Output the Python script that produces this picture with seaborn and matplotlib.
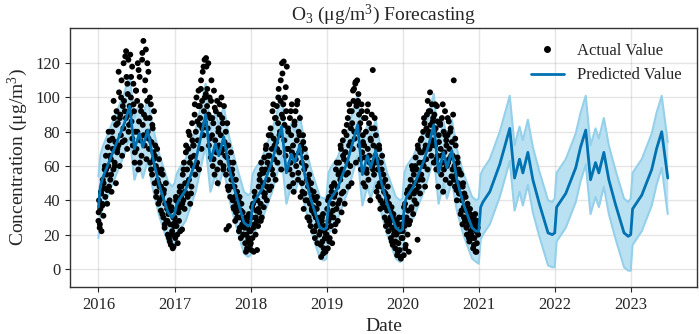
import matplotlib
matplotlib.use("Agg")
import matplotlib.pyplot as plt
import matplotlib.dates as mdates
from matplotlib.lines import Line2D
import pandas as pd
import seaborn as sns

# ---------------- data ----------------
actual_years = [2016, 2017, 2018, 2019, 2020]
# observed O3 values, one every third day from 1 January of each year
actual_2016 = [28, 40, 24, 35, 45, 22, 38, 52, 31, 47, 58,
               42, 66, 55, 38, 71, 60, 48, 75, 52,
               64, 45, 80, 70, 58, 88, 62, 74, 50, 92, 68,
               85, 72, 103, 60, 90, 78, 110, 66, 95, 82,
               98, 75, 124, 88, 112, 70, 102, 122, 84, 95,
               125, 100, 86, 118, 72, 108, 92, 62, 80, 104,
               70, 98, 120, 58, 86, 112, 75, 95, 66, 122, 84,
               133, 90, 72, 110, 128, 64, 98, 80, 115, 70,
               88, 62, 96, 74, 55, 82, 68, 92, 50, 72,
               60, 45, 70, 52, 38, 64, 48, 56, 34, 58,
               42, 55, 30, 46, 24, 38, 50, 28, 35, 20,
               32, 18, 40, 26, 14, 36, 22, 12, 30, 25]
actual_2017 = [30, 18, 42, 25, 35, 15, 38, 28, 45, 22, 36,
               48, 23, 55, 40, 62, 35, 50, 68, 44,
               58, 42, 70, 52, 78, 38, 65, 48, 85, 60, 72,
               66, 90, 55, 80, 100, 62, 75, 95, 58, 84,
               88, 105, 70, 98, 115, 78, 92, 122, 85, 102,
               118, 95, 82, 120, 72, 100, 88, 65, 110, 78,
               60, 85, 104, 55, 75, 92, 68, 98, 50, 80, 72,
               90, 62, 78, 100, 70, 85, 58, 95, 74, 66,
               80, 23, 65, 48, 72, 25, 58, 42, 68, 52,
               55, 40, 62, 35, 48, 28, 52, 38, 45, 30,
               36, 22, 42, 30, 18, 38, 25, 33, 20, 28,
               24, 15, 30, 20, 12, 27, 18, 32, 22, 14]
actual_2018 = [22, 11, 30, 18, 38, 10, 26, 42, 20, 34, 28,
               40, 25, 48, 33, 55, 38, 62, 30, 45,
               50, 36, 65, 44, 58, 72, 40, 62, 52, 78, 46,
               60, 82, 48, 70, 92, 55, 76, 64, 88, 52,
               74, 95, 62, 85, 105, 68, 80, 98, 58, 90,
               114, 88, 121, 75, 100, 66, 92, 118, 58, 82,
               70, 48, 88, 62, 78, 96, 55, 72, 45, 84, 66,
               92, 60, 75, 98, 52, 80, 68, 88, 42, 72,
               62, 45, 78, 35, 58, 70, 40, 65, 52, 30,
               48, 30, 55, 38, 25, 50, 35, 42, 22, 45,
               32, 18, 40, 25, 35, 15, 28, 38, 20, 30,
               22, 7, 28, 16, 32, 12, 25, 18, 10, 20]
actual_2019 = [20, 35, 12, 28, 42, 18, 32, 25, 45, 15, 38,
               30, 50, 22, 44, 58, 35, 48, 28, 55,
               62, 40, 52, 70, 33, 58, 75, 45, 64, 38, 68,
               55, 78, 62, 88, 48, 72, 92, 60, 82, 50,
               85, 70, 98, 105, 76, 108, 62, 95, 110, 80,
               102, 90, 72, 85, 58, 96, 68, 78, 50, 88,
               65, 48, 80, 58, 92, 70, 52, 85, 62, 40, 75,
               82, 60, 116, 72, 55, 88, 66, 78, 45, 70,
               58, 42, 72, 50, 35, 62, 48, 66, 38, 55,
               45, 30, 52, 25, 40, 34, 48, 22, 38, 28,
               30, 18, 36, 24, 14, 32, 20, 28, 12, 25,
               20, 8, 26, 15, 30, 11, 22, 6, 18, 24]
actual_2020 = [18, 30, 8, 25, 38, 14, 28, 44, 20, 34, 10,
               42, 28, 52, 35, 60, 45, 32, 55, 40,
               50, 65, 38, 58, 17, 70, 48, 62, 44, 75, 55,
               68, 52, 80, 60, 85, 48, 72, 64, 90, 58,
               78, 92, 70, 103, 84, 66, 96, 75, 88, 62,
               90, 72, 82, 58, 95, 66, 48, 78, 60, 85,
               70, 55, 88, 62, 45, 80, 68, 92, 52, 75, 60,
               78, 62, 86, 70, 50, 82, 66, 74, 58, 90,
               110, 60, 48, 72, 55, 40, 65, 50, 58, 44,
               48, 32, 55, 40, 26, 50, 36, 44, 28, 42,
               34, 20, 38, 26, 30, 16, 35, 22, 28, 18,
               24, 12, 30, 18, 26, 10, 22, 15, 28, 20]
# further observed values, one every sixth day from 2 January of each year
extra_2016 = [33, 26, 44, 37, 50, 60,
              58, 46, 80, 66,
              55, 76, 98, 60, 84,
              70, 115, 88, 100, 74,
              120, 92, 127, 108, 80,
              90, 112, 76, 96, 68,
              104, 80, 116, 62, 92,
              126, 78, 104, 88, 120,
              76, 100, 58, 84, 64,
              66, 42, 58, 50, 40,
              48, 32, 44, 26, 38,
              28, 38, 16, 34, 20, 13]
extra_2017 = [27, 40, 20, 33, 48, 42,
              38, 58, 45, 72,
              50, 80, 62, 44, 75,
              72, 96, 60, 86, 104,
              95, 110, 82, 118, 100,
              123, 105, 90, 76, 98,
              88, 64, 94, 70, 58,
              82, 96, 68, 88, 60,
              70, 55, 85, 46, 62,
              48, 58, 36, 42, 33,
              30, 40, 24, 34, 26,
              20, 28, 10, 24, 17, 30]
extra_2018 = [15, 36, 24, 45, 30, 11,
              35, 52, 28, 58,
              56, 42, 70, 48, 66,
              66, 78, 58, 96, 72,
              88, 70, 100, 78, 110,
              120, 96, 84, 106, 70,
              80, 58, 92, 68, 50,
              86, 64, 96, 56, 78,
              68, 50, 74, 44, 60,
              40, 52, 28, 46, 34,
              36, 22, 30, 42, 26,
              26, 14, 30, 9, 22, 18]
extra_2019 = [24, 40, 16, 30, 48, 34,
              42, 26, 62, 38,
              56, 72, 44, 66, 80,
              68, 84, 56, 96, 74,
              92, 104, 80, 109, 96,
              98, 82, 64, 92, 74,
              72, 88, 56, 96, 66,
              76, 90, 58, 82, 62,
              64, 48, 70, 40, 58,
              50, 36, 44, 28, 42,
              26, 34, 16, 30, 22,
              16, 28, 10, 22, 7, 26]
extra_2020 = [22, 36, 12, 30, 46, 26,
              48, 36, 58, 44,
              60, 46, 72, 52, 68,
              76, 62, 88, 70, 82,
              98, 80, 92, 72, 86,
              80, 96, 64, 86, 74,
              84, 66, 96, 58, 78,
              72, 88, 64, 80, 54,
              66, 52, 76, 46, 62,
              44, 56, 34, 48, 30,
              30, 24, 36, 18, 32,
              20, 28, 14, 32, 10, 24]

# forecast: knot dates (month-day) inside each year
pred_years = [2016, 2017, 2018, 2019, 2020, 2021, 2022, 2023]
knot_days = ["01-01", "01-10", "01-21", "02-23", "04-12", "05-05", "05-30",
             "06-22", "07-16", "08-01", "08-25", "09-18", "10-19", "11-30", "12-20"]
knot_days_2023 = ["01-01", "01-10", "01-21", "02-23", "04-12", "05-05", "05-30", "06-28"]

pred_mid = [36, 48, 53, 63, 78, 85, 95, 70, 79, 71, 81, 65, 49, 33, 30,
            32, 37, 40, 46, 63, 76, 90, 63, 73, 66, 77, 60, 45, 27, 25,
            26, 37, 40, 46, 62, 72, 83, 56, 67, 62, 72, 55, 40, 24, 23,
            24, 38, 41, 47, 63, 73, 84, 55, 66, 59, 69, 52, 38, 24, 22,
            23, 38, 42, 48, 63, 72, 84, 56, 68, 59, 69, 52, 38, 24, 22,
            22, 36, 39, 45, 61, 71, 82, 53, 64, 56, 68, 52, 38, 21, 20,
            21, 36, 38, 44, 59, 71, 81, 52, 62, 56, 68, 52, 38, 21, 19,
            20, 35, 37, 43, 58, 70, 80, 53]
pred_low = [18, 30, 35, 45, 60, 67, 77, 52, 61, 53, 63, 47, 31, 15, 12,
            14, 19, 22, 28, 45, 58, 72, 45, 55, 48, 59, 42, 27, 9, 7,
            8, 19, 22, 28, 44, 54, 65, 38, 49, 44, 54, 37, 22, 6, 5,
            6, 20, 23, 29, 45, 55, 66, 37, 48, 41, 51, 34, 20, 6, 4,
            5, 20, 24, 30, 45, 54, 66, 38, 50, 41, 51, 34, 20, 6, 4,
            3, 17, 20, 26, 42, 52, 63, 34, 45, 37, 49, 33, 19, 2, 1,
            1, 16, 18, 24, 39, 51, 61, 32, 42, 36, 48, 32, 18, 1, -1,
            -1, 14, 16, 22, 37, 49, 59, 32]
pred_high = [54, 66, 71, 81, 96, 103, 113, 88, 97, 89, 99, 83, 67, 51, 48,
             50, 55, 58, 64, 81, 94, 108, 81, 91, 84, 95, 78, 63, 45, 43,
             44, 55, 58, 64, 80, 90, 101, 74, 85, 80, 90, 73, 58, 42, 41,
             42, 56, 59, 65, 81, 91, 102, 73, 84, 77, 87, 70, 56, 42, 40,
             41, 56, 60, 66, 81, 90, 102, 74, 86, 77, 87, 70, 56, 42, 40,
             41, 55, 58, 64, 80, 90, 101, 72, 83, 75, 87, 71, 57, 40, 39,
             41, 56, 58, 64, 79, 91, 101, 72, 82, 76, 88, 72, 58, 41, 39,
             41, 56, 58, 64, 79, 91, 101, 74]

y_ticks = [0, 20, 40, 60, 80, 100, 120]

# ---------------- tables ----------------
frames = []
main_lists = [actual_2016, actual_2017, actual_2018, actual_2019, actual_2020]
extra_lists = [extra_2016, extra_2017, extra_2018, extra_2019, extra_2020]
for yr, vals, ext in zip(actual_years, main_lists, extra_lists):
    frames.append(pd.DataFrame({
        "ds": pd.date_range(f"{yr}-01-01", periods=len(vals), freq="3D"),
        "y": vals}))
    frames.append(pd.DataFrame({
        "ds": pd.date_range(f"{yr}-01-02", periods=len(ext), freq="6D"),
        "y": ext}))
actual_df = pd.concat(frames, ignore_index=True).sort_values("ds")

pred_dates = []
for yr in pred_years:
    days = knot_days_2023 if yr == 2023 else knot_days
    pred_dates += [pd.Timestamp(f"{yr}-{d}") for d in days]
pred_df = pd.DataFrame({"ds": pred_dates, "yhat": pred_mid,
                        "lo": pred_low, "hi": pred_high})

# ---------------- plot ----------------
sns.set_style("ticks")
plt.rcParams["font.family"] = ["Liberation Serif", "DejaVu Serif"]
plt.rcParams["mathtext.fontset"] = "custom"
plt.rcParams["mathtext.rm"] = "Liberation Serif"
plt.rcParams["mathtext.it"] = "Liberation Serif:italic"

fig = plt.figure(figsize=(6.99, 3.34), dpi=100)
ax = fig.add_axes([0.100, 0.141, 0.897, 0.775])

band_fill = "#bae1f2"
band_edge = "#95d0ea"
line_col = "#0072B2"

ax.fill_between(pred_df["ds"], pred_df["lo"], pred_df["hi"],
                color=band_fill, lw=0, zorder=1)
ax.plot(pred_df["ds"], pred_df["lo"], color=band_edge, lw=1.5, zorder=1.2)
ax.plot(pred_df["ds"], pred_df["hi"], color=band_edge, lw=1.5, zorder=1.2)

sns.scatterplot(data=actual_df, x="ds", y="y", color="black", s=18,
                edgecolor="none", ax=ax, zorder=3, legend=False)
sns.lineplot(data=pred_df, x="ds", y="yhat", color=line_col, lw=2,
             ax=ax, zorder=4, legend=False, estimator=None)

ax.grid(True, which="major", color="gray", ls="-", lw=1, alpha=0.2)

ax.set_xlim(pd.Timestamp("2015-08-17"), pd.Timestamp("2023-11-15"))
ax.set_ylim(-10.5, 140.5)
ax.set_yticks(y_ticks)
ax.xaxis.set_major_locator(mdates.YearLocator())
ax.xaxis.set_major_formatter(mdates.DateFormatter("%Y"))
ax.tick_params(labelsize=12, length=3.5)
for s in ax.spines.values():
    s.set_color("#333333")
    s.set_linewidth(1.0)

ax.set_title("O$_3$ (μg/m$^3$) Forecasting", fontsize=14)
ax.set_xlabel("Date", fontsize=14)
ax.set_ylabel("Concentration (μg/m$^3$)", fontsize=14)

handles = [Line2D([], [], marker="o", ls="none", color="black", markersize=4),
           Line2D([], [], color=line_col, lw=2)]
ax.legend(handles, ["Actual Value", "Predicted Value"], loc="upper right",
          frameon=False, fontsize=12)

fig.savefig("out.png", dpi=100)
